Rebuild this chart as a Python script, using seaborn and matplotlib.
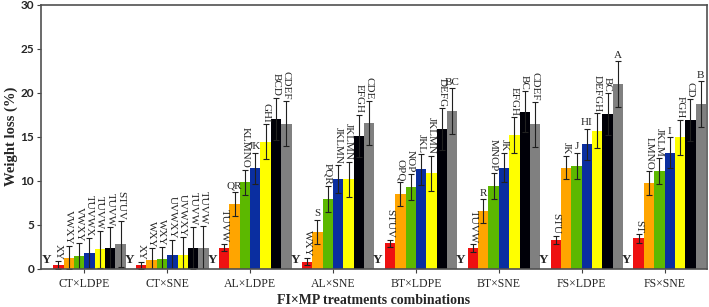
import numpy as np
import pandas as pd
import seaborn as sns
import matplotlib.pyplot as plt

# FI x MP combinations (x axis)
groups = ["CT×LDPE", "CT×SNE", "AL×LDPE", "AL×SNE",
          "BT×LDPE", "BT×SNE", "FS×LDPE", "FS×SNE"]

# first slot is the control (0 %), labelled "Y"
series = ["ctrl", "t1", "t2", "t3", "t4", "t5", "t6", "t7"]
colors = ["#ffffff", "#ee1111", "#ffa500", "#5cb800",
          "#0a2ea0", "#ffff00", "#000008", "#808080"]

ctrl = [0, 0, 0, 0, 0, 0, 0, 0]
t1 = [0.4, 0.4, 2.4, 0.8, 2.9, 2.3, 3.25, 3.45]
t2 = [1.25, 1.0, 7.35, 4.2, 8.45, 6.55, 11.5, 9.7]
t3 = [1.4, 1.1, 9.8, 7.9, 9.3, 9.4, 11.7, 11.1]
t4 = [1.8, 1.5, 11.4, 10.15, 11.3, 11.5, 14.15, 13.2]
t5 = [2.2, 1.55, 14.45, 10.15, 10.85, 15.2, 15.7, 14.95]
t6 = [2.3, 2.35, 17.05, 15.1, 15.9, 17.85, 17.6, 16.9]
t7 = [2.8, 2.3, 16.5, 16.6, 17.95, 16.4, 21.0, 18.7]

# standard deviations
e1 = [0.45, 0.4, 0.45, 0.4, 0.4, 0.45, 0.5, 0.5]
e2 = [1.3, 1.3, 1.35, 1.35, 1.35, 1.35, 1.35, 1.35]
e3 = [1.5, 1.4, 1.45, 1.45, 1.5, 1.45, 1.5, 1.5]
e4 = [1.7, 1.75, 1.8, 1.6, 1.75, 1.7, 1.75, 1.75]
e5 = [2.1, 2.0, 2.0, 2.0, 2.0, 2.0, 2.0, 2.0]
e6 = [2.4, 2.4, 2.4, 2.4, 2.35, 2.35, 2.35, 2.35]
e7 = [2.6, 2.6, 2.6, 2.5, 2.6, 2.6, 2.6, 2.6]

# significance letters, one list per group (t1..t7)
letters = [
    ["XY", "VWXY", "VWXY", "TUVWX", "TUVW", "TUVW", "STUV"],
    ["XY", "WXY", "WXY", "UVWXY", "UVWXY", "TUVW", "TUVW"],
    ["TUVW", "QR", "KLMNO", "JK", "GHI", "BCD", "CDEF"],
    ["WXY", "S", "PQR", "JKLMN", "JKLMN", "EFGH", "CDE"],
    ["STUV", "OPQ", "NOP", "JKL", "JKLMN", "DEFG", "BC"],
    ["TUVW", "R", "MNOP", "JK", "EFGH", "BC", "CDEF"],
    ["STU", "JK", "J", "HI", "DEFGH", "BC", "A"],
    ["ST", "LMNO", "JKLM", "I", "FGH", "CD", "B"],
]
# letters that are written horizontally (group, bar)
upright = [(2, 1), (2, 3), (3, 1), (4, 6), (5, 1), (6, 2), (6, 3), (6, 6), (7, 3), (7, 6)]

vals = [ctrl, t1, t2, t3, t4, t5, t6, t7]
errs = [ctrl, e1, e2, e3, e4, e5, e6, e7]

rows = []
for s, v in zip(series, vals):
    for g, y in zip(groups, v):
        rows.append({"group": g, "series": s, "loss": y})
df = pd.DataFrame(rows)

sns.set_style("white")
plt.rcParams["font.family"] = ["Liberation Serif", "DejaVu Serif"]

fig = plt.figure(figsize=(7.09, 3.07), dpi=100)
ax = fig.add_axes([0.058, 0.125, 0.939, 0.859])

sns.barplot(data=df, x="group", y="loss", hue="series", order=groups,
            hue_order=series, palette=colors, width=1.0, gap=0,
            saturation=1, errorbar=None, legend=False, linewidth=0, ax=ax)

bar_sets = list(ax.containers)
for i, cont in enumerate(bar_sets):
    for j, bar in enumerate(cont):
        xc = bar.get_x() + bar.get_width() / 2
        h = bar.get_height()
        if i == 0:
            ax.text(xc - 0.02, 0.3, "Y", ha="center", va="bottom",
                    fontsize=9.5, fontweight="bold")
            continue
        e = errs[i][j]
        ax.errorbar(xc, h, yerr=e, fmt="none", ecolor="#202020",
                    elinewidth=0.8, capsize=2.5, capthick=0.8)
        rot = 0 if (j, i - 1) in upright else 270
        ax.annotate(letters[j][i - 1], (xc, h + e), xytext=(0, 1),
                    textcoords="offset points", ha="center", va="bottom",
                    rotation=rot, fontsize=8)

ax.set_xlim(-0.52, 7.51)
ax.set_ylim(0, 30)
ax.set_yticks([0, 5, 10, 15, 20, 25, 30])
ax.set_xlabel("FI×MP treatments combinations", fontsize=10, fontweight="bold", labelpad=3)
ax.set_ylabel("Weight loss (%)", fontsize=10.5, fontweight="bold", labelpad=2)
ax.tick_params(axis="x", labelsize=8.5, length=3, color="#404040", direction="out", bottom=True)
ax.tick_params(axis="y", length=3, pad=2, color="#404040", direction="out", left=True)
for lab in ax.get_yticklabels():
    lab.set_family(["Lato", "DejaVu Sans"])
    lab.set_fontweight("bold")
    lab.set_fontsize(8.5)
for sp in ax.spines.values():
    sp.set_color("#505050")
    sp.set_linewidth(1.2)

fig.savefig("out.png", dpi=100)
